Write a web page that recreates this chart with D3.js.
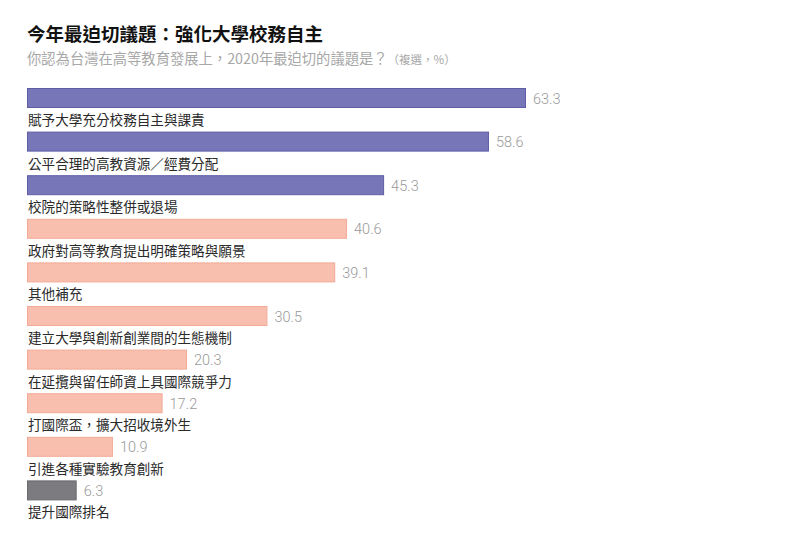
<!DOCTYPE html>
<html><head><meta charset="utf-8">
<script src="https://cdn.jsdelivr.net/npm/d3@7"></script>
<style>
body{margin:0;background:#fff;}
svg{display:block;}
</style></head>
<body>
<script>
const categories = ["賦予大學充分校務自主與課責","公平合理的高教資源／經費分配","校院的策略性整併或退場","政府對高等教育提出明確策略與願景","其他補充","建立大學與創新創業間的生態機制","在延攬與留任師資上具國際競爭力","打國際盃，擴大招收境外生","引進各種實驗教育創新","提升國際排名"];
const values = [63.3,58.6,45.3,40.6,39.1,30.5,20.3,17.2,10.9,6.3];
const groups = ["top","top","top","mid","mid","mid","mid","mid","mid","low"];
const title = "今年最迫切議題：強化大學校務自主";
const subtitle = "你認為台灣在高等教育發展上，2020年最迫切的議題是？";
const note = "（複選，%）";

const W=810,H=543;
const fill={top:"#7676b9",mid:"#f9bfae",low:"#7b7b80"};
const stroke={top:"#5e5ea6",mid:"#f3ab97",low:"#6a6a6f"};
const svg=d3.select("body").append("svg").attr("width",W).attr("height",H);
const font="'Noto Sans CJK TC','Noto Sans',sans-serif";

svg.append("text").attr("x",27).attr("y",41).attr("font-family",font).attr("font-size",18.5).attr("font-weight","bold").attr("fill","#111").text(title);
const st=svg.append("text").attr("x",27).attr("y",64).attr("font-family",font).attr("font-size",14.3).attr("fill","#a8a8a8");
st.append("tspan").text(subtitle);
st.append("tspan").attr("font-size",11.5).text(note);

const step=43.6, bh=20, n=categories.length;
const x=d3.scaleLinear().domain([0,63.3]).range([27,526]);
const y=d3.scaleBand().domain(d3.range(n)).range([88,88+step*(n-(1-bh/step))]).paddingInner(1-bh/step).paddingOuter(0).align(0);
const g=svg.append("g");
const rows=g.selectAll("g").data(values).join("g");
rows.append("rect").attr("x",x(0)+0.5).attr("y",(d,i)=>y(i)+0.5).attr("width",d=>x(d)-x(0)-1).attr("height",y.bandwidth()-1)
 .attr("fill",(d,i)=>fill[groups[i]]).attr("stroke",(d,i)=>stroke[groups[i]]).attr("stroke-width",1);
rows.append("text").attr("x",d=>x(d)+7).attr("y",(d,i)=>y(i)+y.bandwidth()/2+5.5).attr("font-family","'Roboto','DejaVu Sans',sans-serif").attr("font-weight",300).attr("font-size",14.5).attr("fill","#999").text(d=>d.toFixed(1));
rows.append("text").attr("x",28).attr("y",(d,i)=>y(i)+y.bandwidth()+17).attr("font-family",font).attr("font-size",13.6).attr("fill","#2a2a2a").text((d,i)=>categories[i]);
</script>
</body></html>
